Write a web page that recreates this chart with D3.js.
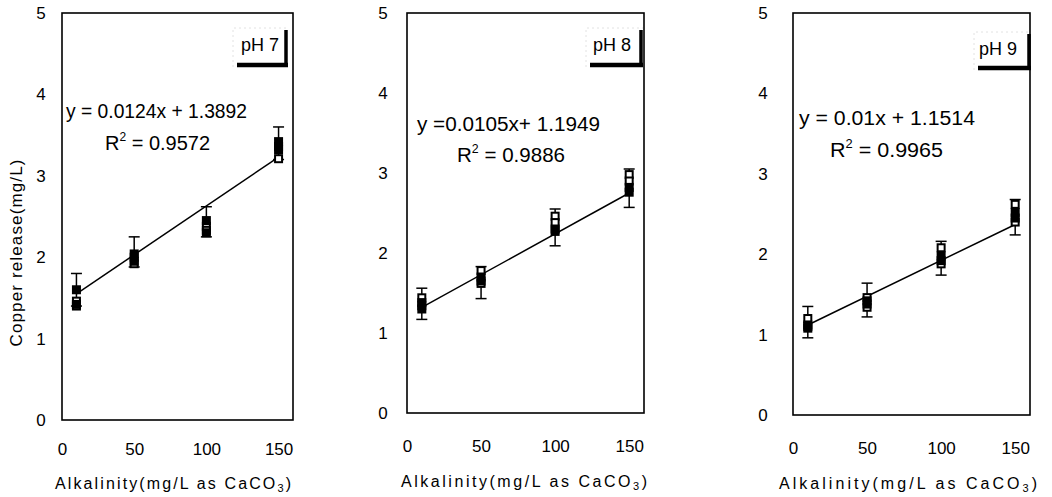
<!DOCTYPE html>
<html><head><meta charset="utf-8">
<script src="https://cdn.jsdelivr.net/npm/d3@7"></script>
<style>
html,body{margin:0;padding:0;background:#fff;}
svg{display:block;font-family:"Liberation Sans",Arial,Helvetica,sans-serif;}
</style></head>
<body><svg id="chart" width="1052" height="497"></svg>
<script>
// ---- data ----
const alkalinity = [10, 50, 100, 150];
const xTicks = [0, 50, 100, 150];
const yTicks = [0, 1, 2, 3, 4, 5];
const panelLabels = ["pH 7", "pH 8", "pH 9"];
const equations = ["y = 0.0124x + 1.3892", "y =0.0105x+ 1.1949", "y = 0.01x + 1.1514"];
const r2Values = ["0.9572", "0.9886", "0.9965"];
const fitX = [10, 150];

// pH 7
const ph7Filled1 = [1.60, 2.04, 2.45, 3.42];
const ph7Filled2 = [1.42, 1.95, 2.30, 3.32];
const ph7Open1 = [1.46, 2.00, 2.38, 3.36];
const ph7Open2 = [1.40, 1.92, 2.33, 3.21];
const ph7ErrHigh = [1.80, 2.25, 2.62, 3.60];
const ph7ErrLow = [1.40, 1.88, 2.25, 3.20];
const ph7Fit = [1.55, 3.23];

// pH 8
const ph8Filled1 = [1.38, 1.70, 2.30, 2.76];
const ph8Filled2 = [1.30, 1.65, 2.27, 2.82];
const ph8Open1 = [1.44, 1.78, 2.46, 2.98];
const ph8Open2 = [1.34, 1.62, 2.38, 2.90];
const ph8ErrHigh = [1.56, 1.83, 2.55, 3.05];
const ph8ErrLow = [1.17, 1.43, 2.09, 2.57];
const ph8Fit = [1.32, 2.75];

// pH 9
const ph9Filled1 = [1.12, 1.38, 1.98, 2.45];
const ph9Filled2 = [1.08, 1.42, 1.92, 2.52];
const ph9Open1 = [1.20, 1.46, 2.08, 2.62];
const ph9Open2 = [1.10, 1.34, 1.88, 2.40];
const ph9ErrHigh = [1.35, 1.64, 2.16, 2.68];
const ph9ErrLow = [0.96, 1.22, 1.74, 2.24];
const ph9Fit = [1.12, 2.37];

const panelData = [
  {filled: [ph7Filled1, ph7Filled2], open: [ph7Open1, ph7Open2], hi: ph7ErrHigh, lo: ph7ErrLow, fit: ph7Fit},
  {filled: [ph8Filled1, ph8Filled2], open: [ph8Open1, ph8Open2], hi: ph8ErrHigh, lo: ph8ErrLow, fit: ph8Fit},
  {filled: [ph9Filled1, ph9Filled2], open: [ph9Open1, ph9Open2], hi: ph9ErrHigh, lo: ph9ErrLow, fit: ph9Fit}
];

// ---- layout (positions only) ----
const layout = [
  {l: 62, r: 293, t: 13, b: 420, yLab: 22, tickBase: 455, titleBase: 489, titleW: 236, titleC: 173,
   eq: [66, 118, 181], r2: [105, 150, 105], box: [233, 28, 288, 67], labC: [260, 51]},
  {l: 407, r: 644, t: 13, b: 413, yLab: 25, tickBase: 452, titleBase: 487, titleW: 246, titleC: 524,
   eq: [417, 131, 183], r2: [457, 162, 108], box: [586, 28, 643, 67], labC: [612, 51]},
  {l: 793, r: 1030, t: 13, b: 415, yLab: 31, tickBase: 454, titleBase: 489, titleW: 258, titleC: 908,
   eq: [799, 125, 176], r2: [830, 157, 113], box: [974, 32, 1031, 70], labC: [998, 55]}
];

const svg = d3.select("#chart");
const M = 9; // marker size

layout.forEach((L, i) => {
  const D = panelData[i];
  const x = d3.scaleLinear().domain([0, 160]).range([L.l, L.r]);
  const y = d3.scaleLinear().domain([0, 5]).range([L.b, L.t]);
  const g = svg.append("g");

  // frame
  g.append("rect").attr("x", L.l).attr("y", L.t).attr("width", L.r - L.l).attr("height", L.b - L.t)
    .attr("fill", "none").attr("stroke", "#000").attr("stroke-width", 1.6);

  // axes labels via d3 axes (no tick lines)
  const yAxis = d3.axisLeft(y).tickValues(yTicks).tickSize(0).tickPadding(L.yLab - 5).tickFormat(d3.format("d"));
  const ya = g.append("g").attr("transform", `translate(${L.l},0)`).call(yAxis);
  ya.select(".domain").remove();
  ya.selectAll("text").attr("font-size", 17).attr("font-family", "Liberation Sans, Arial, sans-serif")
    .attr("text-anchor", "middle").attr("dx", -4).attr("fill", "#000");

  const xAxis = d3.axisBottom(x).tickValues(xTicks).tickSize(0).tickFormat(d3.format("d"));
  const xa = g.append("g").attr("transform", `translate(0,${L.b})`).call(xAxis);
  xa.select(".domain").remove();
  xa.selectAll("text").attr("font-size", 17).attr("font-family", "Liberation Sans, Arial, sans-serif")
    .attr("y", L.tickBase - L.b).attr("dy", 0).attr("fill", "#000");

  // x title
  const xt = g.append("text").attr("x", L.titleC).attr("y", L.titleBase).attr("text-anchor", "middle")
    .attr("font-size", 16).attr("fill", "#000")
    .attr("textLength", L.titleW).attr("lengthAdjust", "spacing");
  xt.append("tspan").text("Alkalinity(mg/L as CaCO");
  xt.append("tspan").text("3").attr("font-size", 11).attr("dy", 3);
  xt.append("tspan").text(")").attr("dy", -3);

  // error bars
  const eb = g.append("g").attr("stroke", "#000").attr("stroke-width", 1.5);
  alkalinity.forEach((a, k) => {
    eb.append("line").attr("x1", x(a)).attr("x2", x(a)).attr("y1", y(D.lo[k])).attr("y2", y(D.hi[k]));
    [D.lo[k], D.hi[k]].forEach(v => {
      eb.append("line").attr("x1", x(a) - 5.5).attr("x2", x(a) + 5.5).attr("y1", y(v)).attr("y2", y(v));
    });
  });

  // fit line
  g.append("line").attr("x1", x(fitX[0])).attr("y1", y(D.fit[0]))
    .attr("x2", x(fitX[1])).attr("y2", y(D.fit[1]))
    .attr("stroke", "#000").attr("stroke-width", 1.5);

  // open markers
  D.open.forEach(series => {
    g.selectAll(null).data(series).enter().append("rect")
      .attr("x", (d, k) => x(alkalinity[k]) - M / 2 + 1).attr("y", d => y(d) - M / 2 + 1)
      .attr("width", M - 2).attr("height", M - 2)
      .attr("fill", "#fff").attr("stroke", "#000").attr("stroke-width", 2);
  });
  // filled markers
  D.filled.forEach(series => {
    g.selectAll(null).data(series).enter().append("rect")
      .attr("x", (d, k) => x(alkalinity[k]) - M / 2).attr("y", d => y(d) - M / 2)
      .attr("width", M).attr("height", M).attr("fill", "#000");
  });

  // equation
  g.append("text").attr("x", L.eq[0]).attr("y", L.eq[1]).attr("font-size", 20).attr("fill", "#000")
    .attr("textLength", L.eq[2]).attr("lengthAdjust", "spacingAndGlyphs").text(equations[i]);
  const r2 = g.append("text").attr("x", L.r2[0]).attr("y", L.r2[1]).attr("font-size", 20).attr("fill", "#000")
    .attr("textLength", L.r2[2]).attr("lengthAdjust", "spacingAndGlyphs");
  r2.append("tspan").text("R");
  r2.append("tspan").text("2").attr("font-size", 12).attr("dy", -9);
  r2.append("tspan").text("  = " + r2Values[i]).attr("dy", 9);

  // pH label box
  const [bx0, by0, bx1, by1] = L.box;
  g.append("path").attr("d", `M${bx0},${by1} V${by0} H${bx1}`).attr("fill", "none")
    .attr("stroke", "#e2e2e2").attr("stroke-width", 1).attr("stroke-dasharray", "2,3");
  g.append("line").attr("x1", bx0 + 4).attr("x2", bx1).attr("y1", by1 - 2).attr("y2", by1 - 2)
    .attr("stroke", "#000").attr("stroke-width", 4.5);
  g.append("line").attr("x1", bx1 - 2).attr("x2", bx1 - 2).attr("y1", by0 + 2).attr("y2", by1)
    .attr("stroke", "#000").attr("stroke-width", 3.5);
  g.append("text").attr("x", L.labC[0]).attr("y", L.labC[1]).attr("text-anchor", "middle")
    .attr("font-size", 18).attr("fill", "#000").text(panelLabels[i]);
});

// y title
svg.append("text").attr("transform", "translate(22,253) rotate(-90)").attr("text-anchor", "middle")
  .attr("font-size", 17).attr("fill", "#000").attr("textLength", 187).attr("lengthAdjust", "spacing")
  .text("Copper release(mg/L)");
</script>
</body></html>
